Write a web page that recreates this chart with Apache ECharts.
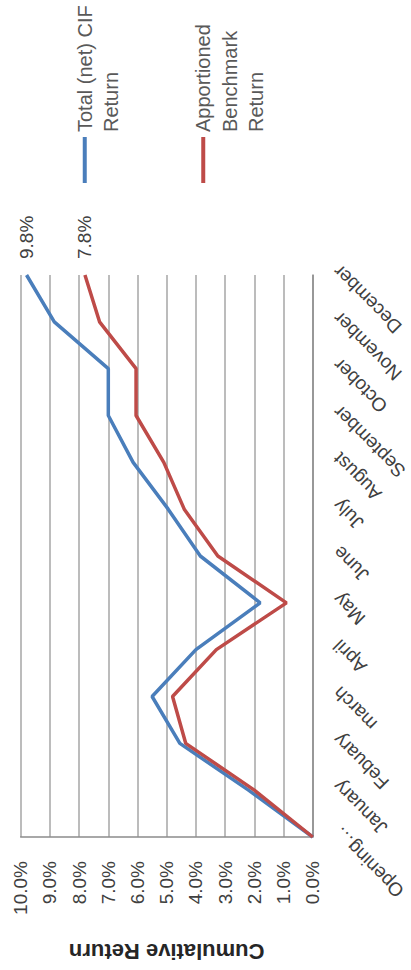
<!DOCTYPE html>
<html><head><meta charset="utf-8">
<script src="https://cdn.jsdelivr.net/npm/echarts@6/dist/echarts.min.js"></script>
<style>
html,body{margin:0;padding:0;background:#fff;overflow:hidden;width:411px;height:970px}
#chart{position:absolute;left:0;top:0;width:970px;height:411px;transform-origin:0 0;transform:translateY(970px) rotate(-90deg);}
</style></head><body><div id="chart"></div>
<script>
const categories = ['Opening…','January','Febuary','march','April','May','June','July','August','September','October','November','December'];
const cifReturn = [0, 2.2, 4.55, 5.5, 4.0, 1.8, 3.85, 4.95, 6.15, 7.0, 7.0, 8.85, 9.8];
const benchmarkReturn = [0, 2.0, 4.35, 4.8, 3.3, 0.9, 3.25, 4.4, 5.1, 6.05, 6.05, 7.3, 7.8];
const seriesNames = ['Total (net) CIF Return', 'Apportioned Benchmark Return'];
const legendLines = [['Total (net) CIF', 'Return'], ['Apportioned', 'Benchmark', 'Return']];
const axisTitle = 'Cumulative Return';
const valueMin = 0, valueMax = 10, valueStep = 1;

const FONT = '"Liberation Sans", Arial, sans-serif';
const colors = ['#4a7ebb', '#be4b48'];

// pad with leading blank lines so the icon lines up with the first text line
function legendText(lines) {
  const pad = new Array(lines.length - 1).fill('').join('\n');
  return pad + '\n' + lines.join('\n');
}

const chart = echarts.init(document.getElementById('chart'), null, {renderer: 'svg'});
const legendTops = [45, 137];
chart.setOption({
  backgroundColor: '#ffffff',
  animation: false,
  grid: {left: 113, right: 275, top: 20.7, bottom: 97.7, containLabel: false},
  legend: seriesNames.map((name, i) => ({
    data: [name],
    orient: 'vertical',
    left: 787,
    top: legendTops[i],
    padding: 0,
    icon: 'rect',
    itemWidth: 46,
    itemHeight: 4,
    selectedMode: false,
    formatter: () => legendText(legendLines[i]),
    textStyle: {fontFamily: FONT, fontSize: 20, lineHeight: 26.5, color: '#595959'}
  })),
  xAxis: {
    type: 'category',
    data: categories,
    boundaryGap: false,
    axisLine: {show: true, lineStyle: {color: '#8c8c8c', width: 1.5}},
    axisTick: {show: false},
    axisLabel: {
      interval: 0, rotate: 45, margin: 17,
      align: 'right', verticalAlign: 'top',
      fontFamily: FONT, fontSize: 19, color: '#404040'
    },
    splitLine: {show: false}
  },
  yAxis: {
    type: 'value',
    min: valueMin, max: valueMax, interval: valueStep,
    name: axisTitle,
    nameLocation: 'middle',
    nameGap: 103,
    nameRotate: 90,
    nameTextStyle: {fontFamily: FONT, fontSize: 22, fontWeight: 'bold', color: '#262626'},
    axisLine: {show: true, lineStyle: {color: '#8c8c8c', width: 1.5}},
    axisTick: {show: false},
    axisLabel: {
      margin: 24, fontFamily: FONT, fontSize: 19, color: '#404040',
      formatter: v => v.toFixed(1) + '%'
    },
    splitLine: {show: true, lineStyle: {color: '#a6a6a6', width: 1.5}}
  },
  series: [cifReturn, benchmarkReturn].map((vals, i) => ({
    name: seriesNames[i],
    type: 'line',
    data: vals,
    symbol: 'none',
    color: colors[i],
    lineStyle: {width: 3.5, color: colors[i]},
    endLabel: {
      show: true, distance: 16,
      fontFamily: FONT, fontSize: 19, color: '#404040',
      formatter: p => p.value.toFixed(1) + '%'
    }
  }))
});
</script></body></html>
